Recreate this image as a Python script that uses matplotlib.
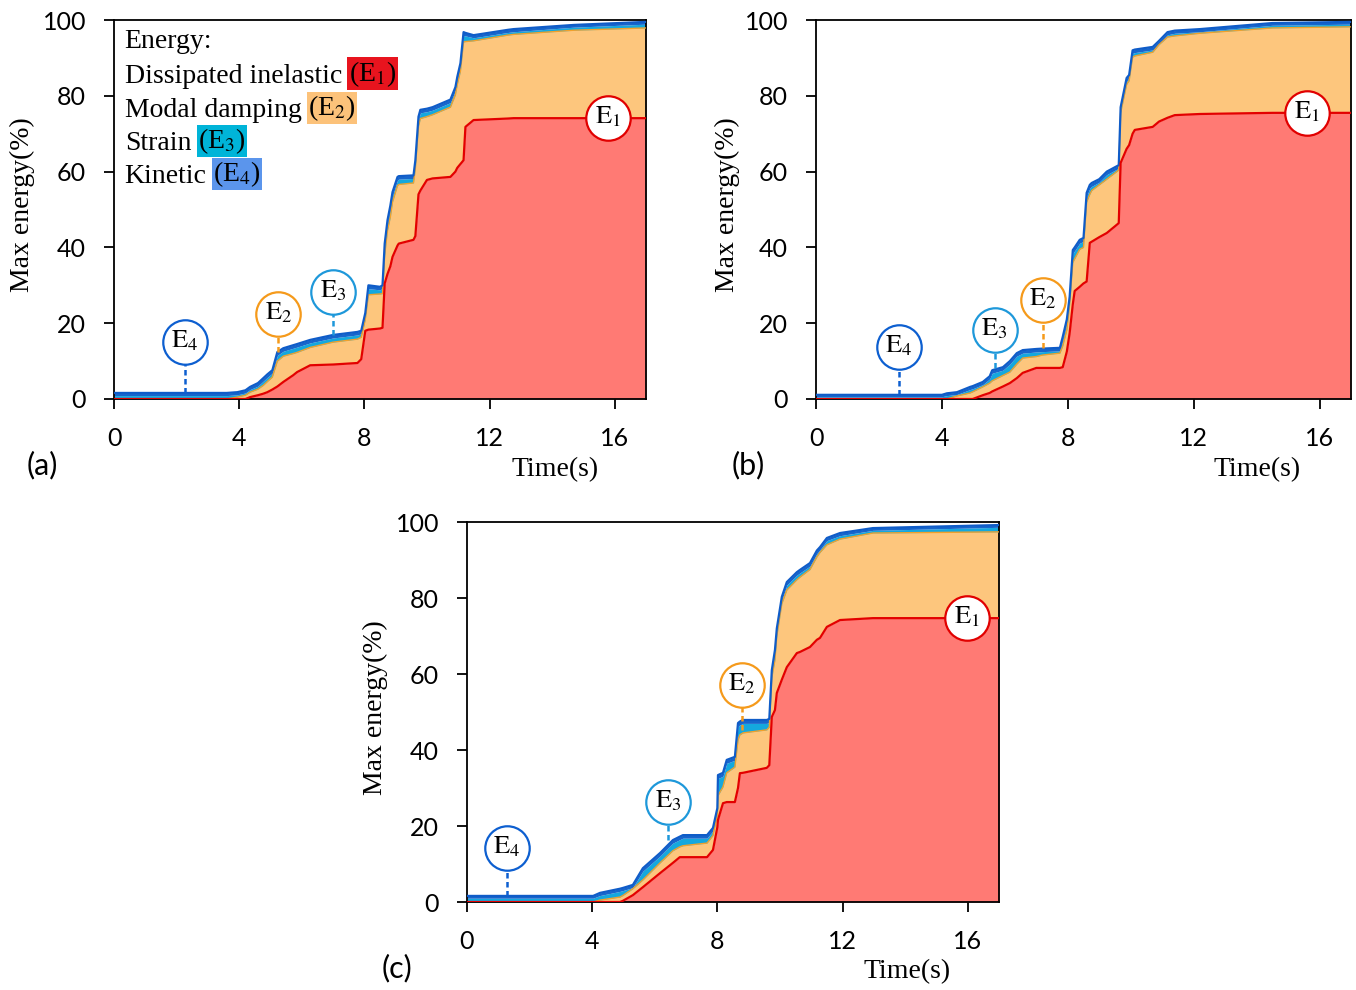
import numpy as np
import matplotlib.pyplot as plt

plt.rcParams['font.family'] = 'Liberation Serif'
plt.rcParams['mathtext.fontset'] = 'stix'

# cumulative energy levels (%): E1, E1+E2, total, and kinetic share on top
a_t = [0, 3.5, 3.6, 3.94, 4.2, 4.35, 4.6, 4.77, 4.9, 5.06, 5.22, 5.41, 5.73, 5.85, 6.27,
       7.0, 7.78, 7.9, 8.03, 8.13, 8.5, 8.58, 8.65, 8.74, 8.83, 8.9, 9.06, 9.1, 9.57, 9.63,
       9.73, 9.79, 10.0, 10.18, 10.75, 10.91, 10.97, 11.07, 11.17, 11.23, 11.49, 12.58, 12.77, 14.69, 17.0]
a_e1 = [0, 0, 0, 0, 0, 0.5, 1.0, 1.4, 1.8, 2.5, 3.3, 4.5, 6.3, 7.1, 8.9,
        9.1, 9.5, 10.5, 18.0, 18.3, 18.6, 18.8, 30.5, 33.0, 35.0, 37.5, 40.5, 41.0, 42.0, 43.0,
        54.0, 55.0, 57.8, 58.2, 58.6, 60.0, 61.0, 62.0, 63.0, 71.8, 73.6, 74.0, 74.1, 74.1, 74.1]
a_e12 = [0, 0, 0, 0.5, 1.0, 1.8, 2.6, 3.6, 4.6, 5.8, 10.0, 11.3, 12.0, 12.3, 13.6,
         15.0, 15.8, 16.3, 21.0, 27.5, 27.7, 27.8, 38.0, 44.5, 48.0, 52.0, 56.3, 56.6, 57.0, 60.8,
         72.0, 74.0, 74.5, 75.0, 77.0, 80.3, 83.0, 86.5, 94.2, 94.3, 94.5, 96.0, 96.2, 97.3, 97.9]
a_tot = [1.6, 1.6, 1.6, 1.8, 2.3, 3.2, 4.2, 5.5, 6.5, 7.6, 12.4, 13.4, 14.2, 14.5, 15.6,
         16.9, 17.7, 18.0, 22.7, 30.0, 29.6, 30.0, 41.0, 47.2, 51.0, 54.6, 58.6, 58.8, 59.0, 63.0,
         74.5, 76.3, 76.6, 77.0, 79.0, 82.3, 85.0, 88.6, 96.8, 96.6, 96.0, 97.4, 97.6, 98.7, 99.5]
a_kin = [0.7, 0.7, 0.7, 0.7, 0.7, 0.7, 0.8, 0.8, 0.8, 0.8, 0.9, 0.8, 0.8, 0.8, 0.8,
         0.8, 0.8, 0.8, 0.9, 0.9, 0.8, 0.8, 0.9, 0.9, 0.9, 0.9, 0.8, 0.8, 0.8, 0.9,
         0.9, 0.8, 0.8, 0.8, 0.8, 0.9, 0.9, 0.9, 0.9, 0.8, 0.7, 0.7, 0.7, 0.6, 0.6]

b_t = [0, 4.0, 4.16, 4.48, 4.9, 4.98, 5.3, 5.52, 5.6, 5.94, 6.16, 6.38, 6.57, 7.0, 7.2,
       7.75, 7.84, 7.97, 8.06, 8.16, 8.22, 8.38, 8.5, 8.6, 8.7, 8.76, 9.0, 9.24, 9.62, 9.68,
       9.87, 9.95, 10.06, 10.13, 10.7, 10.9, 11.17, 11.4, 12.2, 14.5, 17.0]
b_e1 = [0, 0, 0, 0, 0, 0, 1.0, 1.6, 2.0, 3.3, 4.2, 5.5, 6.9, 8.2, 8.2,
        8.2, 8.4, 12.5, 17.4, 25.0, 28.5, 29.6, 30.5, 31.0, 41.2, 41.5, 42.7, 43.8, 46.4, 62.3,
        66.0, 67.0, 70.0, 71.0, 71.8, 73.2, 74.2, 74.9, 75.2, 75.5, 75.5]
b_e12 = [0, 0, 0, 0.8, 1.6, 1.9, 3.2, 4.2, 4.8, 6.2, 7.1, 9.2, 10.8, 11.2, 11.6,
         12.1, 14.0, 18.2, 25.0, 36.0, 37.0, 39.5, 40.0, 52.0, 54.0, 55.0, 56.5, 58.0, 60.4, 75.5,
         83.0, 84.0, 90.2, 90.5, 91.5, 93.5, 95.5, 95.8, 96.5, 97.9, 98.2]
b_tot = [1.1, 1.1, 1.5, 1.8, 3.2, 3.4, 4.5, 6.0, 7.6, 8.4, 10.0, 12.1, 12.9, 13.2, 13.3,
         13.5, 16.4, 21.0, 27.0, 39.3, 40.0, 42.0, 42.5, 54.4, 56.5, 57.0, 58.0, 60.0, 61.7, 77.0,
         84.7, 85.5, 92.0, 92.2, 92.9, 94.5, 96.8, 97.2, 97.6, 99.2, 99.5]
b_kin = [0.5, 0.5, 0.6, 0.6, 0.7, 0.7, 0.7, 0.7, 0.8, 0.8, 0.8, 0.8, 0.8, 0.8, 0.8,
         0.8, 0.8, 0.9, 0.9, 0.9, 0.9, 0.9, 0.9, 0.9, 0.9, 0.9, 0.8, 0.8, 0.8, 0.8,
         0.8, 0.8, 0.8, 0.8, 0.8, 0.8, 0.7, 0.7, 0.7, 0.6, 0.6]

c_t = [0, 4.03, 4.25, 4.89, 4.98, 5.3, 5.62, 6.17, 6.58, 6.8, 6.9, 7.67, 7.86, 8.0, 8.02,
       8.18, 8.3, 8.56, 8.66, 8.72, 8.82, 9.58, 9.66, 9.74, 9.84, 9.9, 10.06, 10.22, 10.54, 10.64,
       10.96, 11.18, 11.28, 11.5, 11.92, 12.97, 17.0]
c_e1 = [0, 0, 0, 0, 0.3, 1.8, 3.9, 7.6, 10.3, 11.8, 11.8, 11.8, 13.7, 19.7, 21.6,
        26.0, 26.3, 26.3, 30.0, 33.9, 34.0, 35.3, 36.0, 48.7, 50.5, 55.0, 58.5, 61.8, 65.5, 65.8,
        67.1, 69.0, 69.5, 72.4, 74.2, 74.7, 74.7]
c_e12 = [0, 0, 0.5, 1.3, 1.7, 3.5, 5.8, 10.3, 13.5, 14.5, 14.8, 15.5, 17.5, 23.0, 28.0,
         30.3, 34.0, 35.5, 42.6, 44.0, 44.5, 45.3, 46.0, 59.0, 63.7, 70.0, 78.5, 82.1, 84.8, 85.5,
         87.5, 90.8, 92.0, 94.0, 95.5, 97.1, 97.4]
c_tot = [1.6, 1.6, 2.4, 3.5, 3.7, 4.5, 8.9, 12.9, 16.3, 17.2, 17.6, 17.6, 19.5, 24.7, 33.4,
         34.0, 37.4, 38.2, 47.1, 47.5, 47.9, 47.9, 48.2, 61.0, 66.3, 72.0, 80.3, 84.2, 86.8, 87.4,
         89.2, 92.5, 93.4, 95.8, 97.1, 98.4, 99.2]
c_kin = [0.6, 0.6, 0.7, 0.7, 0.7, 0.7, 0.8, 0.8, 0.8, 0.8, 0.8, 0.8, 0.8, 0.8, 0.9,
         0.9, 0.9, 0.9, 0.9, 0.9, 0.9, 0.9, 0.9, 0.9, 0.9, 0.9, 0.8, 0.8, 0.8, 0.8,
         0.8, 0.8, 0.7, 0.7, 0.7, 0.6, 0.6]

# callouts: label index, x, circle y, y where the dashed leader ends
a_marks = [(4, 2.27, 15.0, 1.6), (2, 5.25, 22.4, 12.4), (3, 7.0, 28.2, 16.9), (1, 15.8, 74.1, None)]
b_marks = [(4, 2.63, 13.7, 1.1), (3, 5.68, 18.2, 8.2), (2, 7.2, 26.1, 13.4), (1, 15.6, 75.5, None)]
c_marks = [(4, 1.28, 14.2, 1.6), (3, 6.42, 26.3, 16.3), (2, 8.79, 57.1, 45.3), (1, 15.97, 74.7, None)]

red_fill, red_line = '#ff7a74', '#e30000'
org_fill, org_line = '#fdc67d', '#f3a129'
cyan_fill = '#14a8de'
blue_fill, blue_line = '#1766cc', '#0f5cc8'
mark_col = {1: '#e10000', 2: '#f59a1b', 3: '#1e98da', 4: '#0d5fd0'}

W, H = 1356, 990
fig = plt.figure(figsize=(W / 100, H / 100), dpi=100)


def panel(rect, t, e1, e12, tot, kin, marks):
    ax = fig.add_axes([rect[0] / W, 1 - rect[3] / H, (rect[2] - rect[0]) / W, (rect[3] - rect[1]) / H])
    t, e1, e12, tot, kin = map(np.array, (t, e1, e12, tot, kin))
    ax.fill_between(t, 0, e1, color=red_fill, lw=0, zorder=2)
    ax.fill_between(t, e1, e12, color=org_fill, lw=0, zorder=2)
    ax.fill_between(t, e12, tot - kin, color=cyan_fill, lw=0, zorder=2)
    ax.fill_between(t, tot - kin, tot, color=blue_fill, lw=0, zorder=2)
    ax.plot(t, e12, color=org_line, lw=1.0, zorder=3)
    ax.plot(t, tot, color=blue_line, lw=1.6, zorder=3)
    ax.plot(t, e1, color=red_line, lw=1.6, zorder=3)

    for k, x, y, y0 in marks:
        col = mark_col[k]
        if y0 is not None:
            ax.plot([x, x], [y0, y], color=col, lw=1.8, ls=(0, (2.2, 1.4)), zorder=4)
        ax.plot(x, y, 'o', ms=32, mfc='white', mec=col, mew=1.6, zorder=5, clip_on=False)
        ax.text(x, y + 0.3, r'$\mathrm{E}_%d$' % k, ha='center', va='center', fontsize=19, zorder=6)

    ax.set_xlim(0, 17)
    ax.set_ylim(0, 100)
    ax.set_xticks([0, 4, 8, 12, 16])
    ax.set_yticks([0, 20, 40, 60, 80, 100])
    for s in ax.spines.values():
        s.set_linewidth(1.3)
    ax.tick_params(direction='out', length=7, width=1.3, labelsize=18, labelfontfamily='Lato')
    ax.tick_params(axis='x', pad=13)
    ax.tick_params(axis='y', pad=13)
    return ax


ax_a = panel((114, 20, 646, 399), a_t, a_e1, a_e12, a_tot, a_kin, a_marks)
ax_b = panel((816, 20, 1351, 399), b_t, b_e1, b_e12, b_tot, b_kin, b_marks)
ax_c = panel((467, 522, 999, 902), c_t, c_e1, c_e12, c_tot, c_kin, c_marks)

# axis titles and panel tags
for (tx, ty), (yx, yy), (px, py), tag in [((555, 470), (22, 205), (42, 465), '(a)'),
                                          ((1257, 470), (727, 205), (748, 465), '(b)'),
                                          ((907, 972), (375, 708), (397, 968), '(c)')]:
    fig.text(tx / W, 1 - ty / H, 'Time(s)', ha='center', va='center', fontsize=20)
    fig.text(yx / W, 1 - yy / H, 'Max energy(%)', ha='center', va='center', rotation=90, fontsize=20)
    fig.text(px / W, 1 - py / H, tag, ha='center', va='center', fontsize=22, family='Lato')

# legend block inside panel (a)
leg_rows = ['Dissipated inelastic', 'Modal damping', 'Strain', 'Kinetic']
leg_box = ['#e8141e', '#fcc27a', '#00b4d8', '#5b95ec']
leg_y = [0.852, 0.762, 0.675, 0.588]
ax_a.text(0.02, 0.942, 'Energy:', transform=ax_a.transAxes, fontsize=20, va='center', zorder=7)
for i, (name, bc, y) in enumerate(zip(leg_rows, leg_box, leg_y)):
    txt = ax_a.text(0.02, y, name, transform=ax_a.transAxes, fontsize=20, va='center', zorder=7)
    ax_a.annotate(r'(E$_%d$)' % (i + 1), xy=(1, 0), xycoords=txt, xytext=(5, 0),
                  textcoords='offset points', ha='left', va='bottom', fontsize=20, zorder=7,
                  bbox=dict(boxstyle='square,pad=0.05', fc=bc, ec='none'))

fig.savefig('out.png', dpi=100)
